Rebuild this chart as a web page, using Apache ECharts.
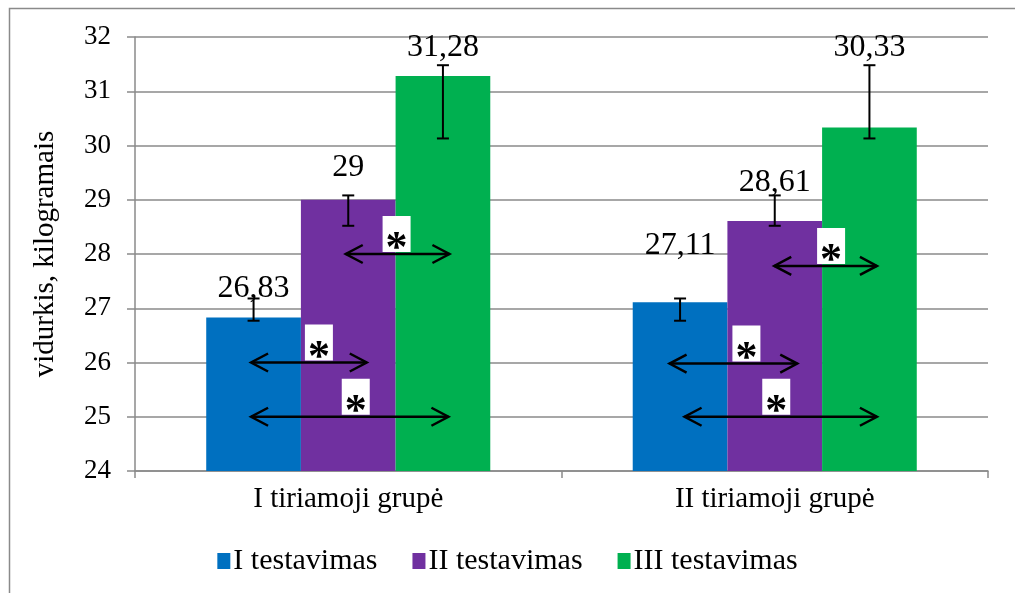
<!DOCTYPE html>
<html>
<head>
<meta charset="utf-8">
<script src="https://cdn.jsdelivr.net/npm/echarts@6/dist/echarts.min.js"></script>
<style>
  html, body { margin: 0; padding: 0; background: #fff; }
  #chart { width: 1015px; height: 593px; }
</style>
</head>
<body>
<div id="chart"></div>
<script>
// Group labels and series names
const categories = ['I tiriamoji grupė', 'II tiriamoji grupė'];
const seriesNames = ['I testavimas', 'II testavimas', 'III testavimas'];

// Means per test, one value per group
const test1 = [26.83, 27.11];
const test2 = [29, 28.61];
const test3 = [31.28, 30.33];

// Error bar ends (lower / upper) per test, one value per group
const errLow1 = [26.77, 26.77];
const errHigh1 = [27.18, 27.18];
const errLow2 = [28.52, 28.52];
const errHigh2 = [29.08, 29.08];
const errLow3 = [30.13, 30.13];
const errHigh3 = [31.48, 31.48];

// Significant differences: group, compared tests (0-based), level on the value axis
const sigGroup = [0, 0, 0, 1, 1, 1];
const sigFrom = [1, 0, 0, 1, 0, 0];
const sigTo = [2, 1, 2, 2, 1, 2];
const sigLevel = [28, 26, 25, 27.78, 25.98, 25];
const sigMark = ['*', '*', '*', '*', '*', '*'];

// Y axis ticks
const yMin = 24, yMax = 32, yStep = 1;

const colors = ['#0070C0', '#7030A0', '#00B050'];
const FONT = 'Liberation Serif';
const BAR_FRACTION = 0.222;

// Gap in px between each bar top and its value label, [test][group]
const labelLift = [[13, 41], [16, 22], [12, 64]];

// Pixel tweaks for arrow ends and star boxes: [leftPad, rightPad, boxShift]
const arrowTweaks = [
  [-2.5, 6.5, -1], [-2.5, 18.5, 10], [-2.5, 5.5, 6],
  [-0.5, 7.5, 5.5], [-10.5, 22.5, 13], [4.5, 7.5, -4.5]
];

const means = [test1, test2, test3];
const lows = [errLow1, errLow2, errLow3];
const highs = [errHigh1, errHigh2, errHigh3];

function barCenter(api, group, idx, v) {
  const c0 = api.coord([0, v]);
  const c1 = api.coord([1, v]);
  const bw = (c1[0] - c0[0]) * BAR_FRACTION;
  const c = api.coord([group, v]);
  return [c[0] + (idx - 1) * bw, c[1]];
}

const errData = [];
for (let s = 0; s < 3; s++) {
  for (let g = 0; g < categories.length; g++) {
    errData.push([g, s, lows[s][g], highs[s][g]]);
  }
}

const sigData = sigGroup.map((g, i) => [g, sigFrom[i], sigTo[i], sigLevel[i], i]);

const chart = echarts.init(document.getElementById('chart'), null, { renderer: 'canvas' });

const barSeries = seriesNames.map((name, s) => ({
  name: name,
  type: 'bar',
  data: means[s].map((v, g) => ({
    value: v,
    label: { distance: labelLift[s][g] }
  })),
  barWidth: (BAR_FRACTION * 100) + '%',
  barGap: '0%',
  itemStyle: { color: colors[s] },
  label: {
    show: true,
    position: 'top',
    fontFamily: FONT,
    fontSize: 32,
    color: '#000',
    formatter: p => String(p.value).replace('.', ',')
  },
  z: 2
}));

chart.setOption({
  animation: false,
  backgroundColor: '#fff',
  color: colors,
  textStyle: { fontFamily: FONT },
  graphic: [{
    type: 'rect',
    shape: { x: 9.5, y: 8.5, width: 1020, height: 600 },
    style: { fill: 'none', stroke: '#8a8a8a', lineWidth: 1.5 },
    silent: true,
    z: -1
  }],
  legend: {
    data: seriesNames,
    bottom: 12,
    left: 'center',
    icon: 'rect',
    itemWidth: 13,
    itemHeight: 16,
    itemGap: 35,
    textStyle: { fontFamily: FONT, fontSize: 30, color: '#000', padding: [0, 0, 0, -2] }
  },
  grid: { left: 135, right: 27, top: 37, bottom: 122, containLabel: false },
  xAxis: {
    type: 'category',
    data: categories,
    axisLine: { lineStyle: { color: '#8a8a8a', width: 1.5 } },
    axisTick: { show: true, length: 7, lineStyle: { color: '#8a8a8a', width: 1.5 } },
    axisLabel: { fontFamily: FONT, fontSize: 29, color: '#000', margin: 14 }
  },
  yAxis: {
    type: 'value',
    min: yMin,
    max: yMax,
    interval: yStep,
    name: 'vidurkis, kilogramais',
    nameLocation: 'middle',
    nameGap: 75,
    nameTextStyle: { fontFamily: FONT, fontSize: 29, color: '#000' },
    axisLine: { show: true, lineStyle: { color: '#8a8a8a', width: 1.5 } },
    axisTick: { show: true, length: 8, lineStyle: { color: '#8a8a8a', width: 1.5 } },
    axisLabel: { fontFamily: FONT, fontSize: 27, color: '#000', margin: 24 },
    splitLine: { lineStyle: { color: '#8a8a8a', width: 1.5 } }
  },
  series: barSeries.concat([
    {
      type: 'custom',
      name: 'errors',
      data: errData,
      z: 5,
      silent: true,
      renderItem: function (params, api) {
        const g = api.value(0), s = api.value(1);
        const top = barCenter(api, g, s, api.value(3));
        const bot = barCenter(api, g, s, api.value(2));
        const x = top[0], cap = 6;
        const st = { stroke: '#000', lineWidth: 2 };
        return {
          type: 'group',
          children: [
            { type: 'line', shape: { x1: x, y1: top[1], x2: x, y2: bot[1] }, style: st },
            { type: 'line', shape: { x1: x - cap, y1: top[1], x2: x + cap, y2: top[1] }, style: st },
            { type: 'line', shape: { x1: x - cap, y1: bot[1], x2: x + cap, y2: bot[1] }, style: st }
          ]
        };
      }
    },
    {
      type: 'custom',
      name: 'significance',
      data: sigData,
      z: 6,
      silent: true,
      renderItem: function (params, api) {
        const g = api.value(0), a = api.value(1), b = api.value(2), lvl = api.value(3), i = api.value(4);
        const tw = arrowTweaks[i];
        const p1 = barCenter(api, g, a, lvl);
        const p2 = barCenter(api, g, b, lvl);
        const x1 = p1[0] + tw[0], x2 = p2[0] + tw[1], y = p1[1];
        const head = 17, half = 9;
        const st = { stroke: '#000', lineWidth: 2.5, fill: 'none', lineJoin: 'miter' };
        const bx = (x1 + x2) / 2 + tw[2];
        const bwid = 28, bh = 36;
        return {
          type: 'group',
          children: [
            { type: 'line', shape: { x1: x1, y1: y, x2: x2, y2: y }, style: st },
            { type: 'polyline', shape: { points: [[x1 + head, y - half], [x1, y], [x1 + head, y + half]] }, style: st },
            { type: 'polyline', shape: { points: [[x2 - head, y - half], [x2, y], [x2 - head, y + half]] }, style: st },
            { type: 'rect', shape: { x: bx - bwid / 2, y: y - 2 - bh, width: bwid, height: bh }, style: { fill: '#fff' } },
            {
              type: 'text',
              style: {
                text: sigMark[i],
                x: bx, y: y + 18,
                align: 'center', verticalAlign: 'bottom',
                font: 'bold 44px ' + FONT,
                fill: '#000'
              }
            }
          ]
        };
      }
    }
  ])
});
</script>
</body>
</html>
